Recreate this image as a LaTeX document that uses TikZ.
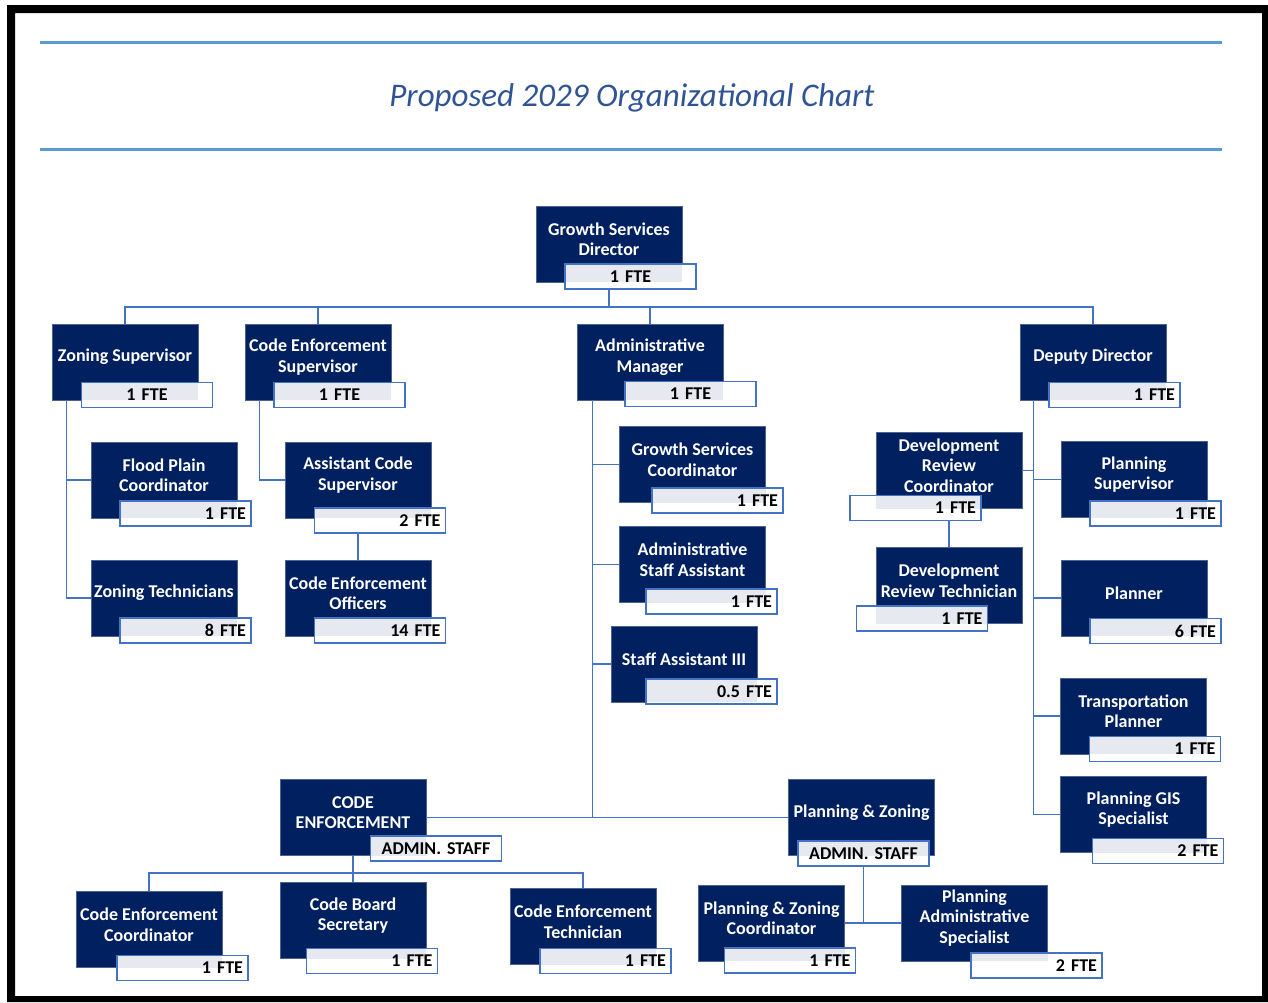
\documentclass[tikz,border=0pt]{standalone}
\usepackage{fontspec}
\setmainfont{Carlito}

\definecolor{marine}{RGB}{0,32,96}
\definecolor{filet}{RGB}{68,114,196}
\definecolor{trait}{RGB}{91,155,213}
\definecolor{grisfte}{RGB}{231,233,240}
\definecolor{titrebleu}{RGB}{47,84,150}

\begin{document}
\begin{tikzpicture}[x=1pt,y=-1pt,
    poste/.style={fill=marine,draw=marine!70!white,line width=.6pt,
        minimum width=146pt,minimum height=76pt,inner sep=0pt},
    intitule/.style={anchor=center,yshift=5pt,align=center,text=white,
        font=\fontsize{18}{20.5}\selectfont\bfseries},
    fte/.style={draw=filet,line width=1.4pt,fill=white,text width=121pt,
        inner xsep=5pt,inner ysep=0pt,minimum height=25pt,text=black,
        font=\fontsize{18}{20}\selectfont\bfseries,
        path picture={\fill[grisfte] (#1.south west) rectangle (#1.north east);}},
    lien/.style={draw=filet,line width=1.3pt}]
    \useasboundingbox (0,0) rectangle (1268,1002);
    % cadre
    \fill[even odd rule] (7,5) rectangle (1268,1002) (15,13) rectangle (1262,996);
    \draw[trait,line width=3pt] (40,42) -- (1222,42) (40,149.5) -- (1222,149.5);
    \node[titrebleu,anchor=base,font=\fontsize{33}{36}\selectfont\itshape] (titre) at (632,106)
        {Proposed 2029 Organizational Chart};
    % postes
    \foreach \nom/\cx/\cy/\txt in {
        dir/609/244/{Growth Services\\Director},
        zs/125/362/{Zoning Supervisor},
        ces/318/362/{Code Enforcement\\Supervisor},
        am/650/362/{Administrative\\Manager},
        dd/1093/362/{Deputy Director},
        fp/164/480/{Flood Plain\\Coordinator},
        zt/164/598/{Zoning Technicians},
        asc/358/480/{Assistant Code\\Supervisor},
        ceo/358/598/{Code Enforcement\\Officers},
        gsc/692.5/464.5/{Growth Services\\Coordinator},
        asa/692.5/564.5/{Administrative\\Staff Assistant},
        sa3/684/664/{Staff Assistant III},
        drc/949/470.5/{Development\\Review\\Coordinator},
        drt/949/585.5/{Development\\Review Technician},
        ps/1134/479.5/{Planning\\Supervisor},
        pl/1134/598/{Planner},
        tp/1133.5/716/{Transportation\\Planner},
        gis/1133.5/814.5/{Planning GIS\\Specialist},
        ce/353/817.5/{CODE\\ENFORCEMENT},
        pz/861.5/817.5/{Planning \& Zoning},
        cec/149/929.5/{Code Enforcement\\Coordinator},
        cbs/353/920.5/{Code Board\\Secretary},
        cet/583/926.5/{Code Enforcement\\Technician},
        pzc/771.5/923/{Planning \& Zoning\\Coordinator},
        pas/974.5/923/{Planning\\Administrative\\Specialist}}
        \node[poste,label={[intitule]center:\txt}] (\nom) at (\cx,\cy) {};
    % effectifs
    \foreach \nom/\cx/\cy/\nb/\al in {
        dir/630.5/276.5/{1 FTE}/center,
        zs/147/395/{1 FTE}/center,
        ces/339.5/395/{1 FTE}/center,
        am/690.5/394/{1 FTE}/center,
        dd/1114.5/395/{1 FTE}/right,
        fp/185.5/513.5/{1 FTE}/right,
        zt/185.5/630.5/{8 FTE}/right,
        asc/380/520.5/{2 FTE}/right,
        ceo/380/630.5/{14 FTE}/right,
        gsc/717.5/500.5/{1 FTE}/right,
        asa/711.5/601.5/{1 FTE}/right,
        sa3/711.5/691.5/{0.5 FTE}/right,
        drc/915.5/508/{1 FTE}/right,
        drt/922/618.5/{1 FTE}/right,
        ps/1155.5/513.5/{1 FTE}/right,
        pl/1155.5/631/{6 FTE}/right,
        tp/1155/749/{1 FTE}/right,
        gis/1158/851/{2 FTE}/right,
        ce/436/848.5/{ADMIN. STAFF}/center,
        pz/863.5/853.5/{ADMIN. STAFF}/center,
        cec/182.5/968/{1 FTE}/right,
        cbs/372/961/{1 FTE}/right,
        cet/605.5/961/{1 FTE}/right,
        pzc/790/960.5/{1 FTE}/right,
        pas/1036.5/965.5/{2 FTE}/right}
        \node[fte=\nom,align/.expanded=\al] (\nom-f) at (\cx,\cy) {\nb};
    % liaisons directeur
    \coordinate (bus) at (0,307);
    \draw[lien] (dir.center |- dir-f.south) -- (dir.center |- bus);
    \draw[lien] (zs.north) |- (dd.north |- bus) -- (dd.north);
    \draw[lien] (ces.north) -- (ces.north |- bus) (am.north) -- (am.north |- bus);
    % zonage, code enforcement
    \coordinate (zs-b) at ([xshift=15pt]zs.south west);
    \coordinate (ces-b) at ([xshift=15pt]ces.south west);
    \draw[lien] (zs-b) |- (zt.west) (zs-b |- fp.west) -- (fp.west);
    \draw[lien] (ces-b) |- (asc.west);
    \draw[lien] (asc.center |- asc-f.south) -- (ceo.north);
    % administration
    \coordinate (am-b) at ([xshift=16pt]am.south west);
    \draw[lien] (am-b) |- (ce.east) (am-b |- pz.west) -- (pz.west)
        foreach \n in {gsc,asa,sa3}{(am-b |- \n.west) -- (\n.west)};
    % adjoint
    \coordinate (dd-b) at ([xshift=14pt]dd.south west);
    \draw[lien] (dd-b) |- (gis.west)
        foreach \n in {drc.east,ps.west,pl.west,tp.west}{(dd-b |- \n) -- (\n)};
    \draw[lien] (drc.center |- drc-f.south) -- (drt.north);
    % equipes du bas
    \coordinate (bus2) at (0,873);
    \draw[lien] (ce.south) -- (cbs.north);
    \draw[lien] (cec.north) |- (cet.north |- bus2) -- (cet.north);
    \draw[lien] (pz-f.south) -- (pz-f.south |- pas.west) (pzc.east) -- (pas.west);
\end{tikzpicture}
\end{document}
